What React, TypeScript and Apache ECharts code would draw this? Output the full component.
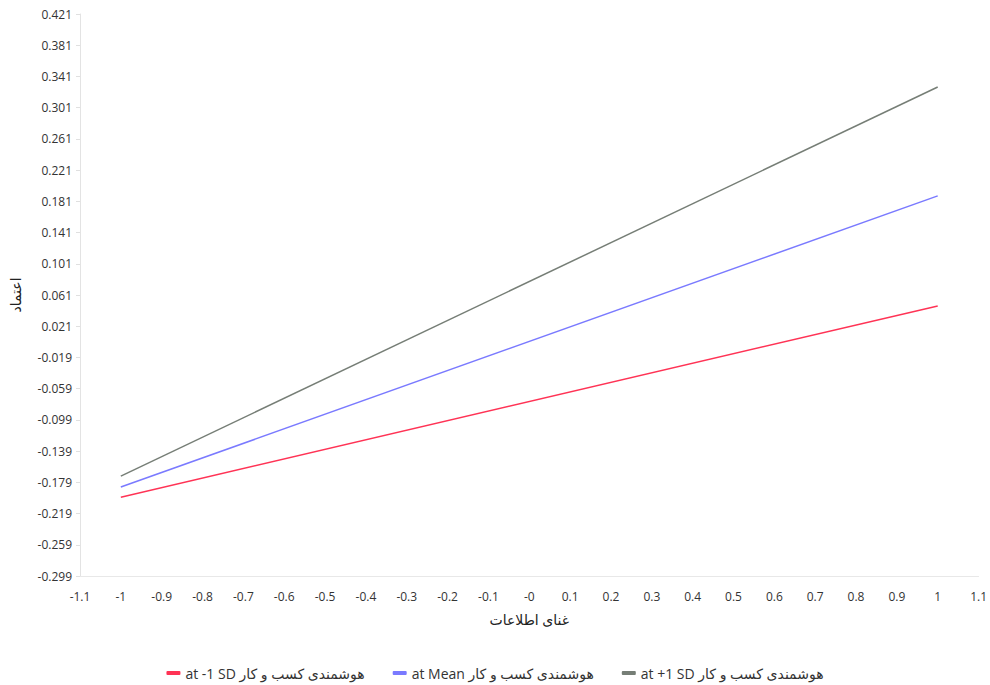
import React, { useEffect, useRef } from "react";
import * as echarts from "echarts";

const seriesNames = [
  "at -1 SD هوشمندی کسب و کار",
  "at Mean هوشمندی کسب و کار",
  "at +1 SD هوشمندی کسب و کار",
];
const xPoints = [-1, 1];
const lowValues = [-0.198, 0.047];
const meanValues = [-0.185, 0.188];
const highValues = [-0.171, 0.3275];
const yTickLabels = [
  "-0.299", "-0.259", "-0.219", "-0.179", "-0.139", "-0.099", "-0.059", "-0.019",
  "0.021", "0.061", "0.101", "0.141", "0.181", "0.221", "0.261", "0.301",
  "0.341", "0.381", "0.421",
];
const xAxisTitle = "غنای اطلاعات";
const yAxisTitle = "اعتماد";
const colors = ["#ff3355", "#7a7aff", "#767e76"];

const FONT = "'Open Sans', 'DejaVu Sans', sans-serif";

export default function App() {
  const ref = useRef<HTMLDivElement>(null);
  useEffect(() => {
    if (!ref.current) return;
    const chart = echarts.init(ref.current, undefined, { renderer: "svg" });
    const valuesList = [lowValues, meanValues, highValues];
    chart.setOption({
      animation: false,
      color: colors,
      textStyle: { fontFamily: FONT },
      grid: { left: 80, right: 8, top: 14, bottom: 109, containLabel: false },
      legend: {
        data: seriesNames,
        top: 661,
        left: "center",
        icon: "roundRect",
        itemWidth: 14,
        itemHeight: 4,
        itemGap: 28,
        textStyle: { fontSize: 14, color: "#333", fontFamily: FONT },
      },
      xAxis: {
        type: "value",
        min: -1.1,
        max: 1.1,
        interval: 0.1,
        name: xAxisTitle,
        nameLocation: "middle",
        nameGap: 36,
        nameTextStyle: { fontSize: 14, color: "#222", fontFamily: FONT },
        axisLine: { show: true, onZero: false, lineStyle: { color: "#e8e8e8" } },
        axisTick: { show: false },
        splitLine: { show: false },
        axisLabel: {
          fontSize: 12,
          color: "#333",
          margin: 14,
          formatter: (v: number) => {
            if (Math.abs(v) < 1e-9) return "-0";
            const r = Math.round(v * 10) / 10;
            return String(r);
          },
        },
      },
      yAxis: [
        {
          type: "value",
          min: -0.299,
          max: 0.421,
          position: "left",
          axisLine: { show: true, onZero: false, lineStyle: { color: "#e3e3e3" } },
          axisTick: { show: false },
          axisLabel: { show: false },
          splitLine: { show: false },
          name: yAxisTitle,
          nameLocation: "middle",
          nameRotate: 90,
          nameGap: 58,
          nameTextStyle: { fontSize: 14, color: "#222", fontFamily: FONT },
        },
        {
          type: "category",
          data: yTickLabels,
          boundaryGap: false,
          position: "left",
          offset: 0,
          axisLine: { show: false, onZero: false },
          axisTick: { show: true, length: 4, lineStyle: { color: "#e0e0e0" } },
          axisLabel: { fontSize: 12, color: "#333", margin: 8 },
          splitLine: { show: false },
        },
      ],
      series: seriesNames.map((name, i) => ({
        name,
        type: "line",
        yAxisIndex: 0,
        showSymbol: false,
        symbol: "none",
        lineStyle: { width: 1.5, color: colors[i] },
        itemStyle: { color: colors[i] },
        data: xPoints.map((x, j) => [x, valuesList[i][j]]),
      })),
    });
    return () => chart.dispose();
  }, []);
  return (
    <div
      ref={ref}
      style={{ position: "absolute", left: 0, top: 0, width: 990, height: 685 }}
    />
  );
}
